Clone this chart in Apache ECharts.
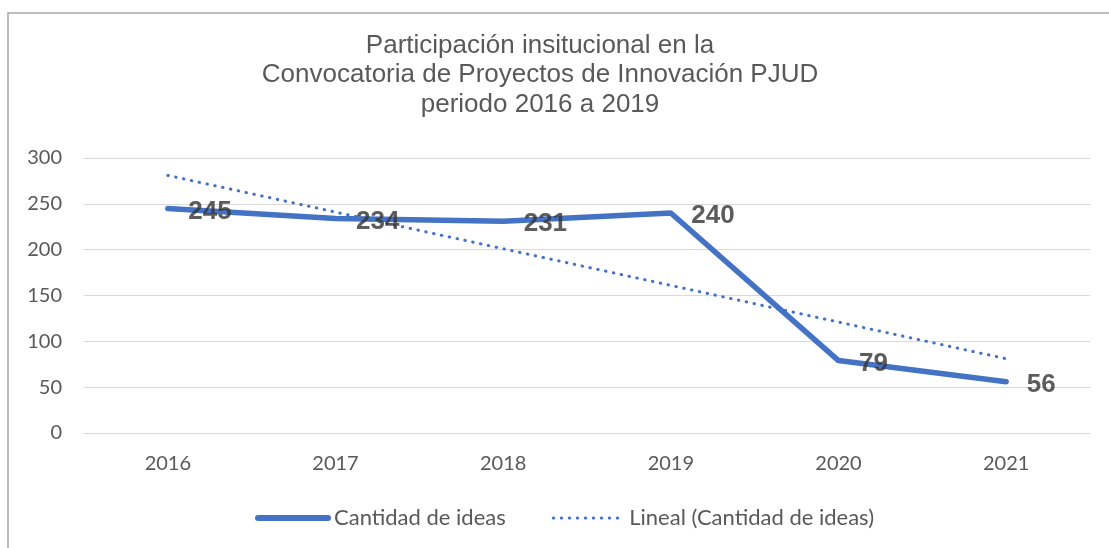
<!DOCTYPE html>
<html>
<head>
    <meta charset="utf-8">
    <script src="https://cdn.jsdelivr.net/npm/echarts@6/dist/echarts.min.js"></script>
</head>

<body style="margin:0;">
<div id="main" style="width: 1109px;height:548px;"></div>

<script type="text/javascript">
    // datos del gráfico
    var anios = ['2016', '2017', '2018', '2019', '2020', '2021'];
    var cantidadIdeas = [245, 234, 231, 240, 79, 56];
    // línea de tendencia
    var tendencia = [281, 241, 201, 161, 121, 81];
    var tituloLineas = [
        'Participación insitucional en la',
        'Convocatoria de Proyectos de Innovación PJUD',
        'periodo 2016 a 2019'
    ];

    var azul = '#4472C4';
    var gris = '#595959';

    var myChart = echarts.init(document.getElementById('main'));

    var option = {
        backgroundColor: '#fff',
        animation: false,
        graphic: [
            {
                type: 'polyline',
                shape: { points: [[8, 548], [8, 13], [1109, 13]] },
                style: { stroke: '#A6A6A6', lineWidth: 1.5, fill: null }
            },
            {
                type: 'text',
                x: 540,
                y: 31,
                style: {
                    text: tituloLineas.join('\n'),
                    fontFamily: 'Liberation Sans',
                    fontSize: 26,
                    lineHeight: 29.5,
                    fill: gris,
                    align: 'center',
                    verticalAlign: 'top'
                }
            }
        ],
        grid: {
            left: 84,
            right: 19,
            top: 158,
            bottom: 115
        },
        legend: {
            left: 250,
            top: 502,
            itemWidth: 70,
            itemHeight: 20,
            itemGap: 46,
            textStyle: { color: gris, fontSize: 22, fontFamily: 'Lato', padding: [0, 0, 0, 1] },
            data: [
                {
                    name: 'Cantidad de ideas',
                    itemStyle: { opacity: 0 },
                    lineStyle: { width: 6, cap: 'round' }
                },
                {
                    name: 'Lineal (Cantidad de ideas)',
                    itemStyle: { opacity: 0 },
                    lineStyle: { width: 3, type: [0.5, 7.5], cap: 'round' }
                }
            ]
        },
        xAxis: {
            type: 'category',
            data: anios,
            boundaryGap: true,
            axisLine: { lineStyle: { color: '#D9D9D9' } },
            axisTick: { show: false },
            axisLabel: { color: gris, fontSize: 20, fontFamily: 'Lato', margin: 21 }
        },
        yAxis: {
            type: 'value',
            min: 0,
            max: 300,
            interval: 50,
            axisLine: { show: false },
            axisTick: { show: false },
            splitLine: { lineStyle: { color: '#D9D9D9', width: 1 } },
            axisLabel: { color: gris, fontSize: 20, fontFamily: 'Lato', margin: 22 }
        },
        series: [
            {
                name: 'Lineal (Cantidad de ideas)',
                type: 'line',
                data: tendencia,
                symbol: 'none',
                z: 2,
                lineStyle: { color: azul, width: 3, type: [0.5, 7.5], cap: 'round' },
                itemStyle: { color: azul }
            },
            {
                name: 'Cantidad de ideas',
                type: 'line',
                data: cantidadIdeas,
                symbol: 'none',
                z: 3,
                lineStyle: { color: azul, width: 5.5, cap: 'round' },
                itemStyle: { color: azul }
            },
            {
                // etiquetas de datos
                name: 'etiquetas',
                type: 'scatter',
                data: cantidadIdeas,
                symbolSize: 1,
                z: 4,
                itemStyle: { color: 'rgba(0,0,0,0)' },
                label: {
                    show: true,
                    position: 'right',
                    distance: 20,
                    offset: [0, 3],
                    color: '#333333',
                    fontSize: 26,
                    fontWeight: 'bold',
                    fontFamily: 'Liberation Sans'
                }
            }
        ]
    };

    myChart.setOption(option);
</script>

</body>

</html>
